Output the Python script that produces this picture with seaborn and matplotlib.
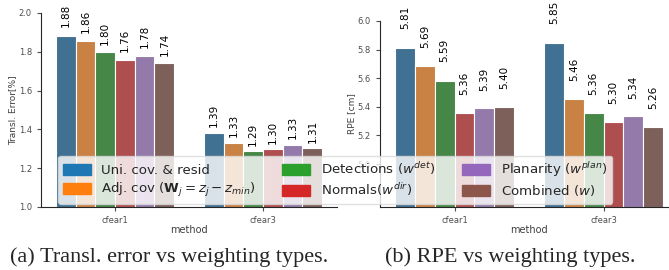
import matplotlib
matplotlib.use("Agg")
import matplotlib.pyplot as plt
import seaborn as sns
import pandas as pd
from matplotlib.patches import Patch

methods = ["cfear1", "cfear3"]
weightings = [
    "Uni. cov. & resid",
    r"Adj. cov ($\mathbf{W}_j = z_j - z_{min}$)",
    r"Detections ($w^{det}$)",
    r"Normals($w^{dir}$)",
    r"Planarity ($w^{plan}$)",
    r"Combined ($w$)",
]
# values per weighting, [cfear1, cfear3]
transl_cfear1 = [1.884, 1.856, 1.798, 1.758, 1.779, 1.741]
transl_cfear3 = [1.383, 1.331, 1.288, 1.297, 1.321, 1.302]
transl_lbl_cfear1 = ["1.88", "1.86", "1.80", "1.76", "1.78", "1.74"]
transl_lbl_cfear3 = ["1.39", "1.33", "1.29", "1.30", "1.33", "1.31"]
rpe_cfear1 = [5.808, 5.683, 5.583, 5.358, 5.389, 5.398]
rpe_cfear3 = [5.845, 5.458, 5.358, 5.297, 5.335, 5.262]
rpe_lbl_cfear1 = ["5.81", "5.69", "5.59", "5.36", "5.39", "5.40"]
rpe_lbl_cfear3 = ["5.85", "5.46", "5.36", "5.30", "5.34", "5.26"]

sns.set_style("ticks")
plt.rcParams["font.family"] = ["DejaVu Sans"]

W, H = 669, 270
fig = plt.figure(figsize=(W / 100, H / 100), dpi=100)

palette = sns.color_palette("tab10", 6)


def make_df(v1, v3):
    rows = []
    for m, vals in zip(methods, [v1, v3]):
        for w, v in zip(weightings, vals):
            rows.append({"method": m, "weighting": w, "value": v})
    return pd.DataFrame(rows)


def px_axes(x0, x1, ytop, ybot):
    return fig.add_axes([x0 / W, (H - ybot) / H, (x1 - x0) / W, (ybot - ytop) / H])


def draw(ax, df, labels_by_method, ylim, yticks, ylabel, fac):
    sns.barplot(data=df, x="method", y="value", hue="weighting", order=methods,
                hue_order=weightings, palette=palette, ax=ax, legend=False,
                saturation=0.55, edgecolor="white", linewidth=0.8)
    ax.set_ylim(*ylim)
    ax.set_xlim(-0.5, 1.5)
    ax.set_yticks(yticks)
    ax.set_yticklabels([f"{t:.1f}" for t in yticks])
    ax.tick_params(axis="both", labelsize=6, colors=".3", length=3, width=0.8)
    ax.set_xlabel("method", fontsize=7, color=".25", labelpad=0)
    ax.set_ylabel(ylabel, fontsize=6.5, color=".25", labelpad=1)
    sns.despine(ax=ax)
    for hi, cont in enumerate(ax.containers):
        for mi, bar in enumerate(cont):
            h = bar.get_height()
            xc = bar.get_x() + bar.get_width() / 2
            ax.text(xc, h + h * fac, labels_by_method[mi][hi],
                    rotation=90, ha="center", va="bottom", fontsize=7.5,
                    color="black", clip_on=False)


ax1 = px_axes(41, 337, 13, 207)
draw(ax1, make_df(transl_cfear1, transl_cfear3), [transl_lbl_cfear1, transl_lbl_cfear3],
     (1.0, 2.0), [1.0, 1.2, 1.4, 1.6, 1.8, 2.0], "Transl. Error[%]", 0.022)

ax2 = px_axes(380, 678, 21, 207)
draw(ax2, make_df(rpe_cfear1, rpe_cfear3), [rpe_lbl_cfear1, rpe_lbl_cfear3],
     (4.7, 6.0), [5.0, 5.2, 5.4, 5.6, 5.8, 6.0], "RPE [cm]", 0.023)

handles = [Patch(facecolor=c, edgecolor=c) for c in palette]
fig.legend(handles, weightings, ncol=3, loc="lower left",
           bbox_to_anchor=(58 / W, (H - 204) / H), borderaxespad=0,
           fontsize=9.6, frameon=True, framealpha=0.8, edgecolor="0.85",
           fancybox=True, labelspacing=0.3, columnspacing=2.0,
           handlelength=2.1, handleheight=0.85,
           handletextpad=0.8, borderpad=0.35)

fig.text(169 / W, (H - 262) / H, "(a) Transl. error vs weighting types.",
         family="Liberation Serif", fontsize=16, ha="center", va="baseline")
fig.text(510 / W, (H - 262) / H, "(b) RPE vs weighting types.",
         family="Liberation Serif", fontsize=16, ha="center", va="baseline")

fig.savefig("out.png", dpi=100)
